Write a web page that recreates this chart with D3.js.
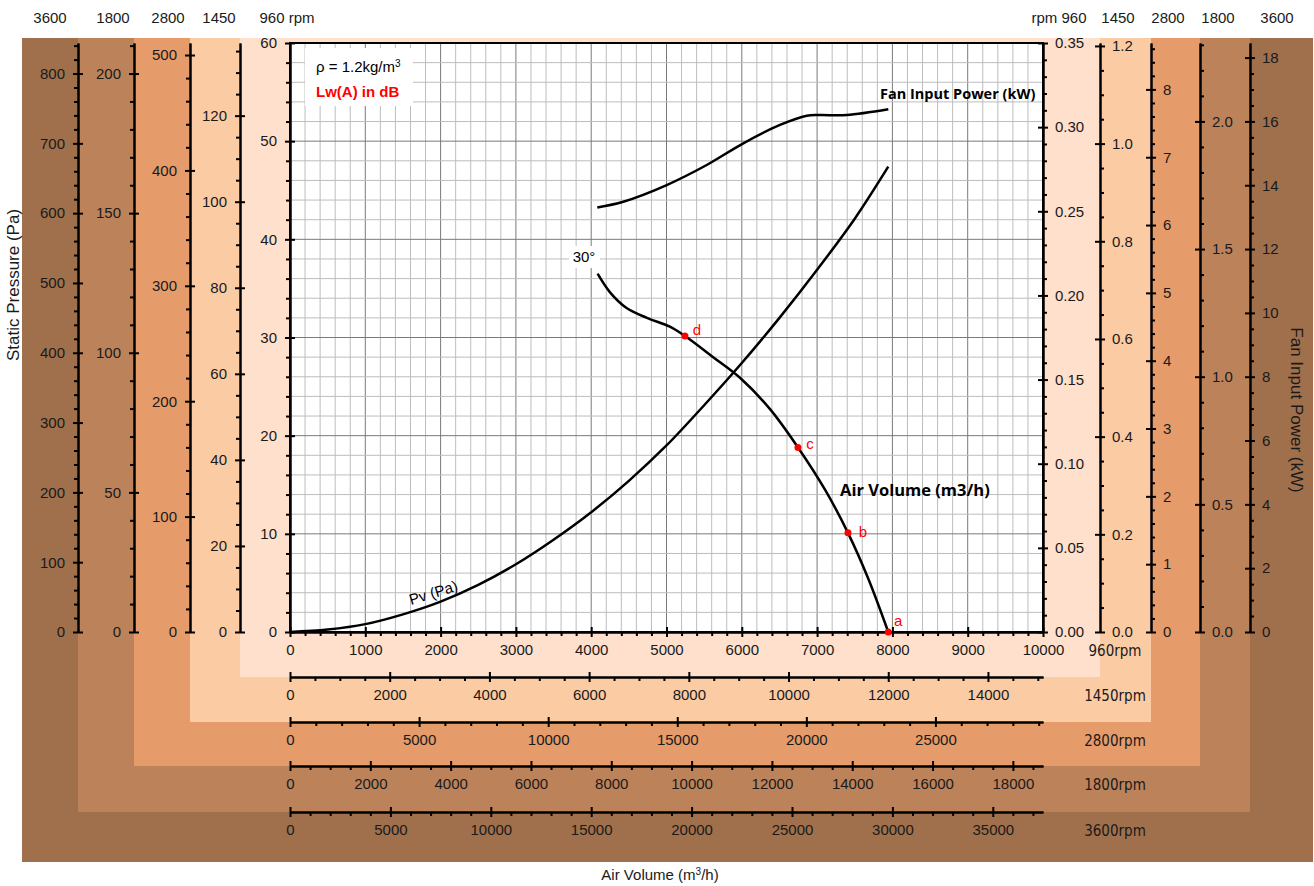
<!DOCTYPE html>
<html>
<head>
<meta charset="utf-8">
<script src="https://cdn.jsdelivr.net/npm/d3@7"></script>
<style>
  body { margin: 0; background: #fff; }
  svg { font-family: 'Liberation Sans', Arial, sans-serif; }
  .tick text { font-size: 15px; fill: #1a1a1a; }
</style>
</head>
<body>
<svg></svg>
<script>
const w = 1314;
const h = 886;

// fan speeds, from the inner panel to the outer one
const rpms = [960, 1450, 2800, 1800, 3600];
const panelColors = ['#FEE0CC', '#FBCBA4', '#E59B6A', '#BC825A', '#A0704C'];

// tick steps for every speed
const pressMajor = [10, 20, 100, 50, 100];
const pressMinor = [2, 5, 20, 10, 20];
const powerMajor = [0.05, 0.2, 1, 0.5, 2];
const powerMinor = [0.01, 0.05, 0.2, 0.1, 0.5];
const powerFormat = ['.2f', '.1f', 'd', '.1f', 'd'];
const flowMajor = [1000, 2000, 5000, 2000, 5000];
const flowMinor = [200, 500, 1000, 500, 1000];

// 960 rpm reference ranges
const baseFlowMax = 10000;
const basePressMax = 60;
const basePowerMax = 0.35;

// static pressure curve at 960 rpm
const staticQ = [4085, 4250, 4470, 4740, 5045, 5245, 5620, 5976, 6375, 6746, 7105, 7410, 7676, 7945];
const staticPa = [36.5, 34.6, 33.0, 32.0, 31.1, 30.15, 28.0, 25.9, 22.7, 18.8, 14.5, 10.1, 5.5, 0];

// fan input power at 960 rpm
const powerQ = [4081, 4426, 5003, 5534, 6020, 6507, 6862, 7039, 7393, 7946];
const powerKW = [0.2523, 0.2557, 0.2656, 0.2775, 0.2904, 0.3013, 0.3068, 0.3072, 0.3072, 0.3106];

// dynamic pressure Pv
const pvQ = [0, 500, 1000, 1500, 2000, 2500, 3000, 3500, 4000, 4500, 5000, 5500, 6000, 6500, 7000, 7500, 7945];
const pvPa = [0, 0.25, 0.8, 1.8, 3.1, 4.8, 6.9, 9.4, 12.2, 15.4, 19.0, 23.1, 27.4, 32.0, 36.9, 42.1, 47.4];

// operating points
const pointNames = ['a', 'b', 'c', 'd'];
const pointQ = [7945, 7410, 6746, 5245];
const pointPa = [0, 10.1, 18.8, 30.15];

// layout
const plotL = 290, plotR = 1043, plotT = 43, plotB = 632;
const leftAxisX = [290, 240, 190, 134, 78];
const rightAxisX = [1043, 1100, 1151, 1200, 1250];
const bottomAxisY = [632, 677, 722, 766, 812];
const outerL = 22, outerR = 1313, outerB = 862, outerT = 38;

const svg = d3.select('svg').attr('width', w).attr('height', h);

// background panels, outer first
for (let i = rpms.length - 1; i >= 0; i--) {
  const l = i + 1 < rpms.length ? leftAxisX[i + 1] : outerL;
  const r = i + 1 < rpms.length ? rightAxisX[i + 1] : outerR;
  const b = i + 1 < rpms.length ? bottomAxisY[i + 1] : outerB;
  svg.append('rect')
    .attr('x', l).attr('y', outerT)
    .attr('width', r - l).attr('height', b - outerT)
    .attr('fill', panelColors[i]);
}

// plot area
svg.append('rect')
  .attr('x', plotL).attr('y', plotT)
  .attr('width', plotR - plotL).attr('height', plotB - plotT)
  .attr('fill', '#fff');

const x = d3.scaleLinear().domain([0, baseFlowMax]).range([plotL, plotR]);
const y = d3.scaleLinear().domain([0, basePressMax]).range([plotB, plotT]);
const yPow = d3.scaleLinear().domain([0, basePowerMax]).range([plotB, plotT]);

// grid
const grid = svg.append('g');
d3.range(0, baseFlowMax + 1, 200).forEach(v => {
  grid.append('line')
    .attr('x1', x(v)).attr('x2', x(v)).attr('y1', plotT).attr('y2', plotB)
    .attr('stroke', v % 1000 === 0 ? '#7a7a7a' : '#bdbdbd').attr('stroke-width', 1);
});
d3.range(0, basePressMax + 1, 2).forEach(v => {
  grid.append('line')
    .attr('x1', plotL).attr('x2', plotR).attr('y1', y(v)).attr('y2', y(v))
    .attr('stroke', v % 10 === 0 ? '#7a7a7a' : '#bdbdbd').attr('stroke-width', 1);
});

svg.append('rect')
  .attr('x', plotL).attr('y', plotT)
  .attr('width', plotR - plotL).attr('height', plotB - plotT)
  .attr('fill', 'none').attr('stroke', '#000').attr('stroke-width', 2);

const styleAxis = g => {
  g.select('.domain').attr('stroke', '#000').attr('stroke-width', 2);
  g.selectAll('.tick line').attr('stroke', '#000').attr('stroke-width', 2);
};

const minorOnly = (max, minor, major) =>
  d3.range(0, max + 1e-9, minor).filter(v => Math.abs(v / major - Math.round(v / major)) > 1e-6);

rpms.forEach((rpm, i) => {
  const k = rpm / rpms[0];

  // left: static pressure
  const pMax = basePressMax * k * k;
  const ps = d3.scaleLinear().domain([0, pMax]).range([plotB, plotT]);
  const gl = svg.append('g').attr('transform', `translate(${leftAxisX[i]},0)`);
  gl.append('g')
    .call(d3.axisLeft(ps).tickValues(minorOnly(pMax, pressMinor[i], pressMajor[i])).tickSize(4).tickSizeOuter(0).tickFormat(''))
    .call(styleAxis);
  gl.append('g')
    .call(d3.axisLeft(ps).tickValues(d3.range(0, pMax + 1e-9, pressMajor[i])).tickSize(5).tickSizeOuter(0))
    .call(styleAxis)
    .call(g => g.selectAll('.tick line').attr('x1', 5).attr('x2', -5))
    .call(g => g.selectAll('.tick text').attr('x', -13));

  // right: fan power
  const wMax = basePowerMax * k * k * k;
  const ws = d3.scaleLinear().domain([0, wMax]).range([plotB, plotT]);
  const gr = svg.append('g').attr('transform', `translate(${rightAxisX[i]},0)`);
  gr.append('g')
    .call(d3.axisRight(ws).tickValues(minorOnly(wMax, powerMinor[i], powerMajor[i])).tickSize(4).tickSizeOuter(0).tickFormat(''))
    .call(styleAxis);
  gr.append('g')
    .call(d3.axisRight(ws).tickValues(d3.range(0, wMax + 1e-9, powerMajor[i])).tickSize(5).tickSizeOuter(0).tickFormat(d3.format(powerFormat[i])))
    .call(styleAxis)
    .call(g => g.selectAll('.tick line').attr('x1', -5).attr('x2', 5))
    .call(g => g.selectAll('.tick text').attr('x', 12));

  // bottom: air volume
  const qMax = baseFlowMax * k;
  const qs = d3.scaleLinear().domain([0, qMax]).range([plotL, plotR]);
  const gb = svg.append('g').attr('transform', `translate(0,${bottomAxisY[i]})`);
  gb.append('g')
    .call(d3.axisBottom(qs).tickValues(minorOnly(qMax, flowMinor[i], flowMajor[i])).tickSize(4).tickSizeOuter(0).tickFormat(''))
    .call(styleAxis);
  gb.append('g')
    .call(d3.axisBottom(qs).tickValues(d3.range(0, qMax + 1e-9, flowMajor[i])).tickSize(5).tickSizeOuter(0).tickFormat(d3.format('d')))
    .call(styleAxis)
    .call(g => g.selectAll('.tick line').attr('y1', -5).attr('y2', 5))
    .call(g => g.selectAll('.tick text').attr('y', 18).attr('dy', '0.35em'));

  svg.append('text')
    .attr('x', 1115).attr('y', bottomAxisY[i] + 19).attr('dy', '0.35em')
    .attr('text-anchor', 'middle')
    .style('font-family', "'Liberation Sans Narrow', 'DejaVu Sans Condensed', sans-serif")
    .style('font-size', '15px').attr('fill', '#1a1a1a')
    .text(rpm + 'rpm');
});

// rpm labels on top
const topLeftX = [287, 219, 168, 113, 50];
const topRightX = [1059, 1118, 1168, 1218, 1277];
rpms.forEach((rpm, i) => {
  svg.append('text')
    .attr('x', topLeftX[i]).attr('y', 23).attr('text-anchor', 'middle')
    .style('font-size', '15px').attr('fill', '#1a1a1a')
    .text(i === 0 ? rpm + ' rpm' : rpm);
  svg.append('text')
    .attr('x', topRightX[i]).attr('y', 23).attr('text-anchor', 'middle')
    .style('font-size', '15px').attr('fill', '#1a1a1a')
    .text(i === 0 ? 'rpm ' + rpm : rpm);
});

// axis titles
svg.append('text')
  .attr('transform', 'translate(19,285) rotate(-90)')
  .attr('text-anchor', 'middle').style('font-size', '17px').attr('fill', '#1a1a1a')
  .text('Static Pressure (Pa)');
svg.append('text')
  .attr('transform', 'translate(1291,410) rotate(90)')
  .attr('text-anchor', 'middle').style('font-size', '17px').attr('fill', '#1a1a1a')
  .text('Fan Input Power (kW)');
const xt = svg.append('text')
  .attr('x', 660).attr('y', 880).attr('text-anchor', 'middle')
  .style('font-size', '15px').attr('fill', '#1a1a1a');
xt.append('tspan').text('Air Volume (m');
xt.append('tspan').attr('dy', -5).style('font-size', '10px').text('3');
xt.append('tspan').attr('dy', 5).text('/h)');

// curves
const line = d3.line().curve(d3.curveCatmullRom.alpha(0.5));
svg.append('path')
  .attr('d', line(pvQ.map((q, i) => [x(q), y(pvPa[i])])))
  .attr('fill', 'none').attr('stroke', '#000').attr('stroke-width', 2.5);
svg.append('path')
  .attr('d', line(staticQ.map((q, i) => [x(q), y(staticPa[i])])))
  .attr('fill', 'none').attr('stroke', '#000').attr('stroke-width', 2.5);
svg.append('path')
  .attr('d', line(powerQ.map((q, i) => [x(q), yPow(powerKW[i])])))
  .attr('fill', 'none').attr('stroke', '#000').attr('stroke-width', 2.5);

// operating points
const labelDx = [10, 15, 12, 12];
const labelDy = [-11, -1, -4, -6];
pointNames.forEach((n, i) => {
  svg.append('circle')
    .attr('cx', x(pointQ[i])).attr('cy', y(pointPa[i])).attr('r', 3.5)
    .attr('fill', '#f00');
  svg.append('text')
    .attr('x', x(pointQ[i]) + labelDx[i]).attr('y', y(pointPa[i]) + labelDy[i])
    .attr('dy', '0.35em').attr('text-anchor', 'middle')
    .style('font-size', '15px').attr('fill', '#f00')
    .text(n);
});

// curve labels
svg.append('text')
  .attr('x', 880).attr('y', 99)
  .style('font-family', "'Open Sans', sans-serif").style('font-weight', 'bold')
  .style('font-size', '14.5px').attr('fill', '#000')
  .text('Fan Input Power (kW)');
svg.append('text')
  .attr('x', 840).attr('y', 496)
  .style('font-family', "'Open Sans', sans-serif").style('font-weight', 'bold')
  .style('font-size', '16.5px').attr('fill', '#000')
  .text('Air Volume (m3/h)');
svg.append('text')
  .attr('transform', 'translate(411,605) rotate(-17)')
  .style('font-size', '15px').attr('fill', '#000')
  .text('Pv (Pa)');

svg.append('rect')
  .attr('x', 569).attr('y', 246).attr('width', 31).attr('height', 22)
  .attr('fill', '#fff');
svg.append('text')
  .attr('x', 584).attr('y', 257).attr('dy', '0.35em').attr('text-anchor', 'middle')
  .style('font-size', '15px').attr('fill', '#000')
  .text('30°');

// info box
svg.append('rect')
  .attr('x', 305).attr('y', 48).attr('width', 108).attr('height', 58)
  .attr('fill', '#fff');
const rho = svg.append('text')
  .attr('x', 316).attr('y', 72)
  .style('font-size', '15px').attr('fill', '#000');
rho.append('tspan').text('ρ = 1.2kg/m');
rho.append('tspan').attr('dy', -5).style('font-size', '10px').text('3');
svg.append('text')
  .attr('x', 316).attr('y', 97)
  .style('font-size', '15px').style('font-weight', 'bold').attr('fill', '#f00')
  .text('Lw(A) in dB');
</script>
</body>
</html>
